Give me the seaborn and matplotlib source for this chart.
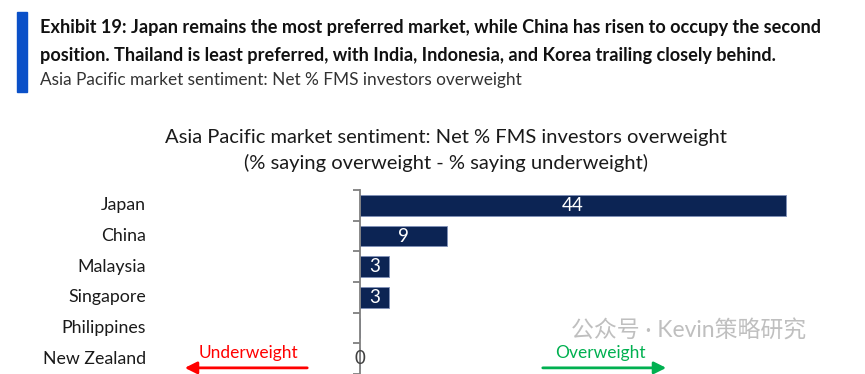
import matplotlib
matplotlib.use('Agg')
import matplotlib.pyplot as plt
import seaborn as sns
import pandas as pd
from matplotlib.patches import Rectangle

markets = ['Japan', 'China', 'Malaysia', 'Singapore', 'Philippines', 'New Zealand']
net_pct = [44, 9, 3, 3, 0, 0]
bar_labels = ['44', '9', '3', '3', '', '0']

df = pd.DataFrame({'Market': markets, 'Net': net_pct})

sns.set_style('white')
plt.rcParams['font.family'] = ['Lato', 'Noto Sans CJK SC', 'DejaVu Sans']

W, H = 865, 374
fig = plt.figure(figsize=(W / 100, H / 100), dpi=100)

def fx(px):
    return px / W

def fy(py):
    return 1 - py / H

# chart area: spans full width, x=0 sits at 360px, 44 reaches 786px
ppu = (786 - 360) / 44
ax = fig.add_axes([0, 0, 1, fy(190)])
sns.barplot(data=df, x='Net', y='Market', orient='h', color='#002060',
            width=0.68, edgecolor='#8090b8', linewidth=0.6, ax=ax)
ax.set_xlim(-360 / ppu, (W - 360) / ppu)
rows = 184 / 31
ax.set_ylim(-0.5 + rows, -0.5)

for s in ['top', 'right', 'bottom']:
    ax.spines[s].set_visible(False)
ax.spines['left'].set_position(('data', 0))
ax.spines['left'].set_color('#7f7f7f')
ax.spines['left'].set_linewidth(1.3)
ax.set_xticks([])
ax.set_yticks(range(len(markets)))
ax.tick_params(axis='y', which='major', length=0, labelleft=False)
ax.set_yticks([i - 0.5 for i in range(len(markets) + 1)], minor=True)
ax.tick_params(axis='y', which='minor', left=True, length=5, width=1.3,
               color='#7f7f7f', direction='out')
ax.set_xlabel('')
ax.set_ylabel('')

trans = ax.get_yaxis_transform()
for i, name in enumerate(markets):
    ax.text(fx(146), i, name, transform=trans,
            ha='right', va='center', fontsize=12.8, color='#1a1a1a')

for i, (v, lab) in enumerate(zip(net_pct, bar_labels)):
    if lab == '':
        continue
    if v > 0:
        ax.text(v / 2, i, lab, ha='center', va='center', fontsize=13.5, color='white')
    else:
        ax.text(0, i, lab, ha='center', va='center', fontsize=13.5, color='#404040')

# direction arrows
ax.annotate('', xy=((182 - 360) / ppu, 5.3), xytext=((310 - 360) / ppu, 5.3),
            arrowprops=dict(arrowstyle='-|>', color='#ff0000', lw=2, mutation_scale=18))
ax.text((248 - 360) / ppu, 4.8, 'Underweight', ha='center', va='center',
        fontsize=12.5, color='#ff0000')
ax.annotate('', xy=((669 - 360) / ppu, 5.3), xytext=((540 - 360) / ppu, 5.3),
            arrowprops=dict(arrowstyle='-|>', color='#00b050', lw=2, mutation_scale=18))
ax.text((600 - 360) / ppu, 4.8, 'Overweight', ha='center', va='center',
        fontsize=12.5, color='#00b050')

# header
fig.patches.append(Rectangle((fx(17), fy(92)), fx(10), fy(12) - fy(92),
                             transform=fig.transFigure, color='#0a50c8'))
fig.text(fx(40), fy(28), 'Exhibit 19: Japan remains the most preferred market, while China has risen to occupy the second',
         ha='left', va='center', fontsize=13.1, fontweight='bold', color='#111111')
fig.text(fx(40), fy(56), 'position. Thailand is least preferred, with India, Indonesia, and Korea trailing closely behind.',
         ha='left', va='center', fontsize=13.1, fontweight='bold', color='#111111')
fig.text(fx(40), fy(80), 'Asia Pacific market sentiment: Net % FMS investors overweight',
         ha='left', va='center', fontsize=12.45, color='#333333')

# chart title
fig.text(fx(446), fy(138), 'Asia Pacific market sentiment: Net % FMS investors overweight',
         ha='center', va='center', fontsize=14.5, color='#1a1a1a')
fig.text(fx(446), fy(163), '(% saying overweight - % saying underweight)',
         ha='center', va='center', fontsize=14.5, color='#1a1a1a')

# watermark
fig.text(fx(571), fy(331), '公众号 · Kevin策略研究', ha='left', va='center',
         fontsize=16.5, color='#b4b4b4', alpha=0.85)

fig.savefig('out.png', dpi=100)
